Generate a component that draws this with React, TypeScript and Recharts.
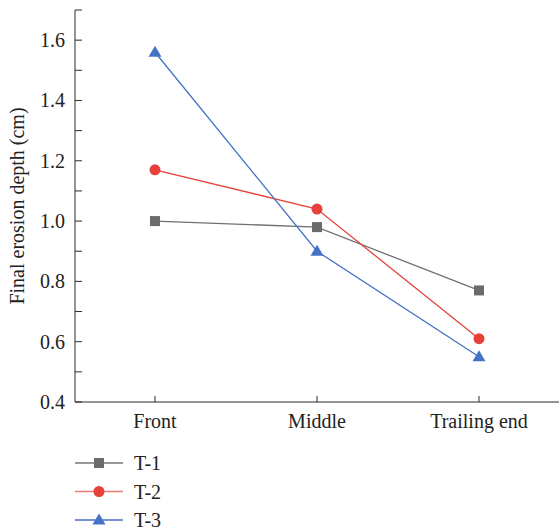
import React from "react";
import { LineChart, Line, XAxis, YAxis, Legend } from "recharts";

const categories = ["Front", "Middle", "Trailing end"];
const t1 = [1.0, 0.98, 0.77];
const t2 = [1.17, 1.04, 0.61];
const t3 = [1.56, 0.9, 0.55];
const yTicks = [0.4, 0.5, 0.6, 0.7, 0.8, 0.9, 1.0, 1.1, 1.2, 1.3, 1.4, 1.5, 1.6, 1.7];
const yLabels = [0.4, 0.6, 0.8, 1.0, 1.2, 1.4, 1.6];
const seriesNames = ["T-1", "T-2", "T-3"];

const data = categories.map((name, i) => ({
  name,
  t1: t1[i],
  t2: t2[i],
  t3: t3[i],
}));

const FONT = "'Liberation Serif', 'Times New Roman', serif";
const AXIS = "#2b2b2b";
const GRAY = "#6b6b6b";
const RED = "#e8413b";
const BLUE = "#4472c4";
const textStyle = { fontFamily: FONT, fontSize: 20, fill: "#222" };

const Marker = ({ kind, cx, cy, color }: any) => {
  if (kind === "square") {
    return <rect x={cx - 5} y={cy - 5} width={10} height={10} fill={color} />;
  }
  if (kind === "circle") {
    return <circle cx={cx} cy={cy} r={5.5} fill={color} />;
  }
  return (
    <polygon
      points={`${cx},${cy - 6.5} ${cx + 6.5},${cy + 4.5} ${cx - 6.5},${cy + 4.5}`}
      fill={color}
    />
  );
};

const makeDot = (kind: string, color: string) => (props: any) => (
  <Marker key={`${kind}-${props.index}`} kind={kind} cx={props.cx} cy={props.cy} color={color} />
);

const XTick = ({ x, y, payload }: any) => (
  <g>
    <line x1={x} y1={y} x2={x} y2={y - 6} stroke={AXIS} strokeWidth={1} />
    <text x={x} y={y + 26} textAnchor="middle" style={textStyle}>
      {payload.value}
    </text>
  </g>
);

const YTick = ({ x, y, payload }: any) => {
  const v = Math.round(payload.value * 10) / 10;
  const show = yLabels.some((l) => Math.abs(l - v) < 1e-6);
  return (
    <g>
      <line x1={x} y1={y} x2={x + 7} y2={y} stroke={AXIS} strokeWidth={1} />
      {show && (
        <text x={x - 10} y={y + 7} textAnchor="end" style={textStyle}>
          {v.toFixed(1)}
        </text>
      )}
    </g>
  );
};

const legendItems = [
  { name: seriesNames[0], kind: "square", line: "#777777", color: GRAY },
  { name: seriesNames[1], kind: "circle", line: "#f07a72", color: RED },
  { name: seriesNames[2], kind: "triangle", line: BLUE, color: BLUE },
];

const LegendBox = () => (
  <svg width={200} height={90}>
    {legendItems.map((it, i) => {
      const cy = 14 + i * 28.5;
      return (
        <g key={it.name}>
          <line x1={15} y1={cy} x2={63} y2={cy} stroke={it.line} strokeWidth={1.5} />
          <Marker kind={it.kind} cx={39} cy={cy} color={it.color} />
          <text x={74} y={cy + 7} style={textStyle}>
            {it.name}
          </text>
        </g>
      );
    })}
  </svg>
);

export default function App() {
  return (
    <div style={{ position: "absolute", left: 0, top: 0, background: "#fff" }}>
      <LineChart width={559} height={532} data={data} margin={{ top: 10, right: 0, left: 0, bottom: 0 }}>
        <XAxis
          dataKey="name"
          height={130}
          padding={{ left: 80, right: 80 }}
          tickSize={0}
          tickMargin={0}
          tickLine={false}
          axisLine={{ stroke: AXIS, strokeWidth: 1 }}
          tick={<XTick />}
          interval={0}
        />
        <YAxis
          width={75}
          domain={[0.4, 1.7]}
          ticks={yTicks}
          allowDataOverflow
          tickSize={0}
          tickMargin={0}
          tickLine={false}
          axisLine={{ stroke: AXIS, strokeWidth: 1 }}
          tick={<YTick />}
          interval={0}
          label={{
            value: "Final erosion depth (cm)",
            angle: -90,
            position: "insideLeft",
            offset: 0,
            dx: 17,
            style: { ...textStyle, textAnchor: "middle" },
          }}
        />
        <Legend
          layout="vertical"
          align="center"
          verticalAlign="middle"
          wrapperStyle={{ left: 60, top: 449, width: 200 }}
          content={() => <LegendBox />}
        />
        <Line
          dataKey="t1"
          name={seriesNames[0]}
          stroke="#707070"
          strokeWidth={1.3}
          dot={makeDot("square", GRAY)}
          activeDot={false}
          isAnimationActive={false}
        />
        <Line
          dataKey="t2"
          name={seriesNames[1]}
          stroke={RED}
          strokeWidth={1.3}
          dot={makeDot("circle", RED)}
          activeDot={false}
          isAnimationActive={false}
        />
        <Line
          dataKey="t3"
          name={seriesNames[2]}
          stroke={BLUE}
          strokeWidth={1.3}
          dot={makeDot("triangle", BLUE)}
          activeDot={false}
          isAnimationActive={false}
        />
      </LineChart>
    </div>
  );
}
